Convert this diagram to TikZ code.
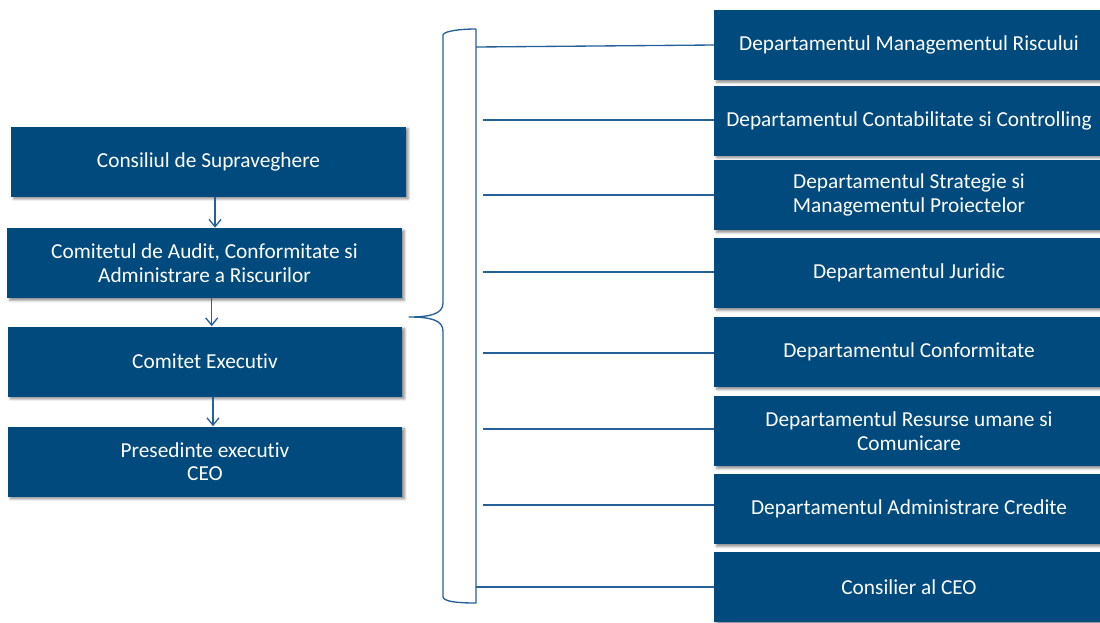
\documentclass[tikz,border=0pt]{standalone}
\usepackage{fontspec}
\setmainfont{Carlito}[Ligatures={NoCommon,NoContextual,NoRare}]
\usetikzlibrary{arrows.meta,shadows.blur}
\definecolor{boxblue}{RGB}{0,74,126}
\definecolor{lineblue}{RGB}{38,96,152}
\tikzset{
  box/.style={fill=boxblue, draw=none, text=white, align=center,
    font=\fontsize{16pt}{17.5pt}\selectfont, inner sep=0pt,
    blur shadow={shadow xshift=1.8pt, shadow yshift=-1.8pt, shadow blur radius=1.8pt, shadow opacity=45}},
  lbox/.style={box, minimum width=296pt, minimum height=52.5pt},
  rbox/.style={box, minimum width=292pt, minimum height=52.5pt},
  conn/.style={draw=lineblue, line width=1pt},
  arr/.style={draw=lineblue, line width=1pt, -{Straight Barb[length=5.5pt,width=9pt,line width=1pt]}},
}
\begin{document}
\begin{tikzpicture}[x=0.75pt,y=-0.75pt]
\useasboundingbox (0,0) rectangle (1100,622);
% left column
\node[lbox] (c1) at (208.5,161.5) {Consiliul de Supraveghere};
\node[lbox] (c2) at (204.5,263) {Comitetul de Audit, Conformitate si\\Administrare a Riscurilor};
\node[lbox] (c3) at (205,361.5) {Comitet Execut{}iv};
\node[lbox] (c4) at (205,461.5) {Presedinte execut{}iv\\CEO};
\draw[arr] ([xshift=4.9pt]c1.south) -- ([xshift=4.9pt]c1.south |- c2.north);
\draw[arr] ([xshift=5.4pt]c2.south) -- ([xshift=5.4pt]c2.south |- c3.north);
\draw[arr] ([xshift=6pt]c3.south) -- ([xshift=6pt]c3.south |- c4.north);
% right column
\node[rbox] (r1) at (909,45) {Departamentul Managementul Riscului};
\node[rbox] (r2) at (909,120.5) {Departamentul Contabilitate si Controlling};
\node[rbox] (r3) at (909,195) {Departamentul Strategie si\\Managementul Proiectelor};
\node[rbox] (r4) at (909,273) {Departamentul Juridic};
\node[rbox] (r5) at (909,352) {Departamentul Conformitate};
\node[rbox] (r6) at (909,431) {Departamentul Resurse umane si\\Comunicare};
\node[rbox] (r7) at (909,509) {Departamentul Administrare Credite};
\node[rbox] (r8) at (909,587) {Consilier al CEO};
% brace
\draw[conn, line join=round]
  (476,29) -- (476,603)
  .. controls (460,603) and (444,602) .. (443,597)
  -- (443,331)
  .. controls (443,320) and (430,317) .. (409,317)
  .. controls (430,317) and (443,314) .. (443,303)
  -- (443,35)
  .. controls (444,31) and (460,29) .. (476,29);
\coordinate (b1) at (476,47);
\coordinate (b2) at (483,120);
\coordinate (b3) at (483,195);
\coordinate (b4) at (483,272);
\coordinate (b5) at (483,353);
\coordinate (b6) at (483,429);
\coordinate (b7) at (483,505);
\coordinate (b8) at (476,587);
\draw[conn] (b1) -- (r1.west);
\foreach \i in {2,...,8} {\draw[conn] (b\i) -- (b\i -| r\i.west);}
\end{tikzpicture}
\end{document}
